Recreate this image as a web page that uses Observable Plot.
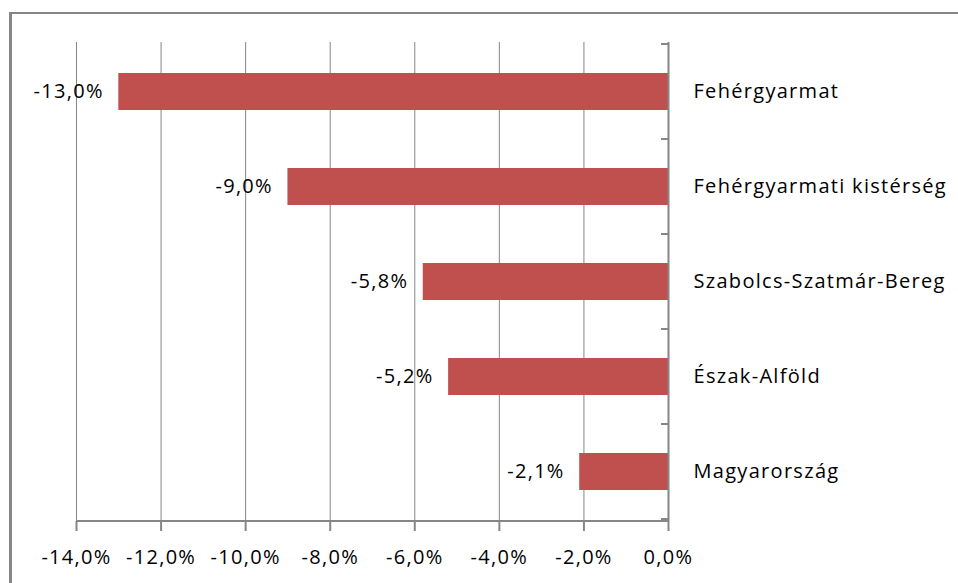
<!DOCTYPE html>
<html><head><meta charset="utf-8">
<script src="https://cdn.jsdelivr.net/npm/d3@7"></script>
<script src="https://cdn.jsdelivr.net/npm/@observablehq/plot@0.6"></script>
<style>
html,body{margin:0;padding:0;background:#fff;overflow:hidden}
#wrap{position:relative;width:958px;height:583px}
#frame{position:absolute;left:9px;top:12px;width:960px;height:600px;border-top:2px solid #868686;border-left:3px solid #868686;box-sizing:border-box;pointer-events:none}
</style></head><body><div id="wrap"><div id="frame"></div></div>
<script>
const categories = ["Fehérgyarmat","Fehérgyarmati kistérség","Szabolcs-Szatmár-Bereg","Észak-Alföld","Magyarország"];
const values = [-13.0,-9.0,-5.8,-5.2,-2.1];
const xTicks = [-14,-12,-10,-8,-6,-4,-2,0];
const data = categories.map((c,i)=>({category:c, value:values[i]}));
const fmt = v => v.toFixed(1).replace(".", ",") + "%";
const GRAY = "#868686";
const FONT = "Open Sans";

function categoryTicks(index, scales, vals, dimensions) {
  const y = scales.y, x = scales.x;
  const x0 = x(0);
  const g = d3.create("svg:g").attr("stroke", GRAY).attr("stroke-width", 2);
  const step = y.step();
  const off = (step - y.bandwidth()) / 2;
  const bounds = y.domain().map(d => y(d) - off);
  bounds.push(bounds[bounds.length - 1] + step);
  for (const b of bounds) g.append("line").attr("x1", x0 - 7).attr("x2", x0).attr("y1", b).attr("y2", b);
  const yb = dimensions.height - dimensions.marginBottom;
  g.append("line").attr("x1", x(xTicks[0])).attr("x2", x0).attr("y1", yb).attr("y2", yb);
  return g.node();
}

const plot = Plot.plot({
  width: 958, height: 583,
  marginLeft: 76, marginRight: 290, marginTop: 42, marginBottom: 62,
  style: {fontFamily: FONT, fontSize: "20px", color: "#000", background: "transparent", letterSpacing: "1.3px"},
  x: {domain: [-14, 0], label: null},
  y: {domain: categories, paddingInner: 0.615, paddingOuter: 0.3075, label: null},
  marks: [
    Plot.gridX(xTicks, {stroke: GRAY, strokeOpacity: 1, strokeWidth: 1}),
    Plot.barX(data, {x: "value", y: "category", fill: "#C0504D"}),
    Plot.ruleX([0], {stroke: GRAY, strokeWidth: 2}),
    Plot.text(data, {x: "value", y: "category", text: d => fmt(d.value), textAnchor: "end", dx: -15, fontSize: 20, fill: "#000"}),
    Plot.axisX(xTicks, {tickFormat: fmt, tickSize: 10, tickPadding: 18, stroke: GRAY, strokeWidth: 2, strokeOpacity: 1, fill: "#000", fontSize: 20}),
    Plot.axisY({anchor: "right", tickSize: 0, tickPadding: 25, fill: "#000", fontSize: 20}),
    categoryTicks
  ]
});
plot.style.position = "absolute";
plot.style.left = "0px";
plot.style.top = "0px";
document.getElementById("wrap").appendChild(plot);
</script></body></html>
